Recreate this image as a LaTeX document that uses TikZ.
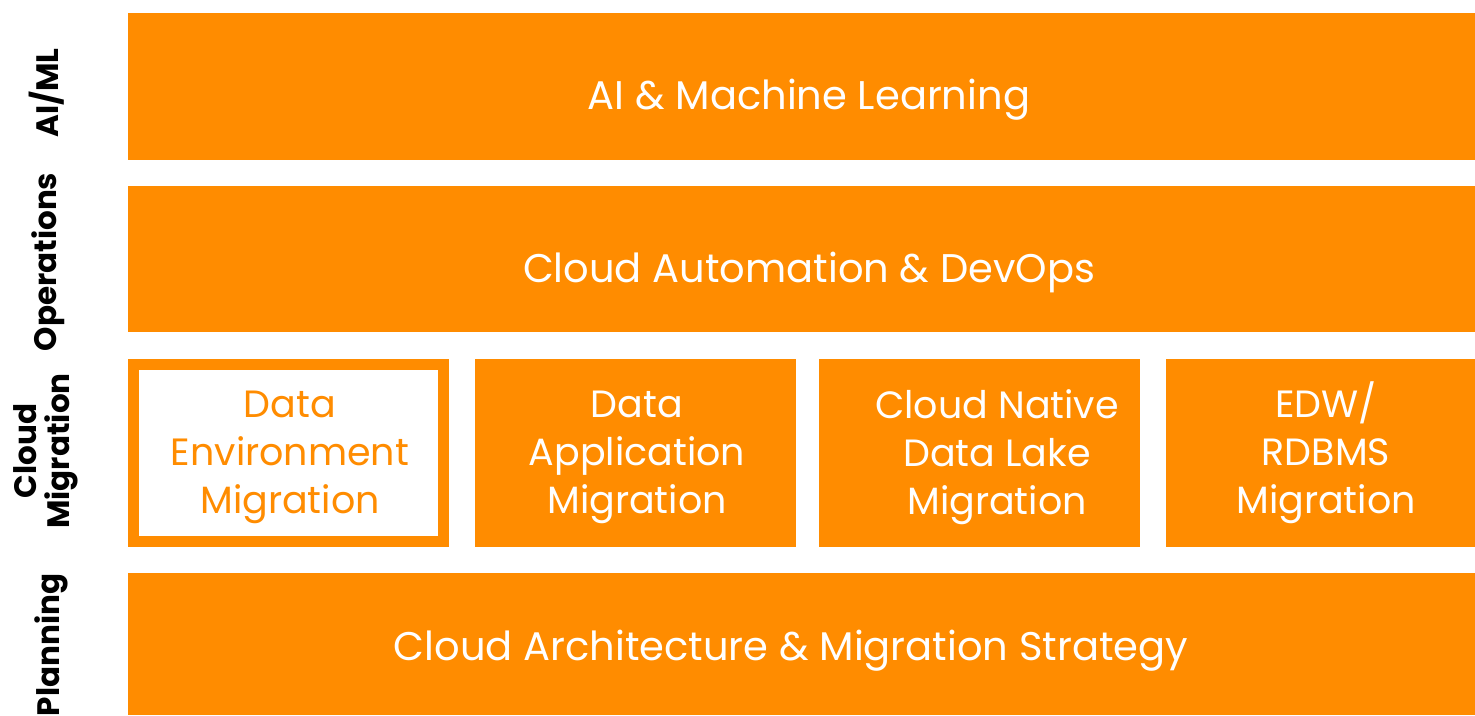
\documentclass[tikz,border=0pt]{standalone}
\usepackage{fontspec}
\setmainfont{Poppins}
\definecolor{org}{HTML}{FF8C00}
\begin{document}
\begin{tikzpicture}[x=1pt,y=-1pt,
  band/.style={fill=org, inner sep=0pt, anchor=north west},
  btxt/.style={text=white, inner sep=0pt, align=center, font=\fontsize{40}{48}\selectfont},
  ctxt/.style={text=white, inner sep=0pt, align=center, font=\fontsize{38}{48}\selectfont},
  lab/.style={rotate=90, font=\bfseries\fontsize{31}{33}\selectfont, align=center, inner sep=0pt, text=black},
  hl/.style={fill=white, draw=org, line width=11pt, inner sep=0pt}]
\useasboundingbox (0,0) rectangle (1475,715);
\node[band, minimum width=1347pt, minimum height=147pt] (ai) at (128,13) {};
\node[band, minimum width=1347pt, minimum height=146pt] (ops) at (128,186) {};
\node[band, minimum width=321pt, minimum height=188pt] (m1) at (128,359) {};
\node[hl, minimum width=310pt, minimum height=177pt] (m1in) at (m1.center) {};
\node[band, minimum width=321pt, minimum height=188pt] (m2) at (475,359) {};
\node[band, minimum width=321pt, minimum height=188pt] (m3) at (819,359) {};
\node[band, minimum width=309pt, minimum height=188pt] (m4) at (1166,359) {};
\node[band, minimum width=1347pt, minimum height=142pt] (plan) at (128,573) {};
\node[btxt] (tai) at (809,100) {AI \& Machine Learning};
\node[btxt] (tops) at (809,272) {Cloud Automation \& DevOps};
\node[btxt] (tplan) at (791,651) {Cloud Architecture \& Migration Strategy};
\node[ctxt, text=org] (t1) at (290,457) {Data\\Environment\\Migration};
\node[ctxt] (t2) at (637,457) {Data\\Application\\Migration};
\node[ctxt] (t3) at (997,457) {Cloud Native\\Data Lake\\Migration};
\node[ctxt] (t4) at (1326,453) {EDW/\\RDBMS\\Migration};
\node[lab] (l1) at (47,93) {AI/ML};
\node[lab] (l2) at (48,262) {Operations};
\node[lab] (l3) at (46,451) {Cloud\\Migration};
\node[lab] (l4) at (51,645) {Planning};
\end{tikzpicture}
\end{document}
